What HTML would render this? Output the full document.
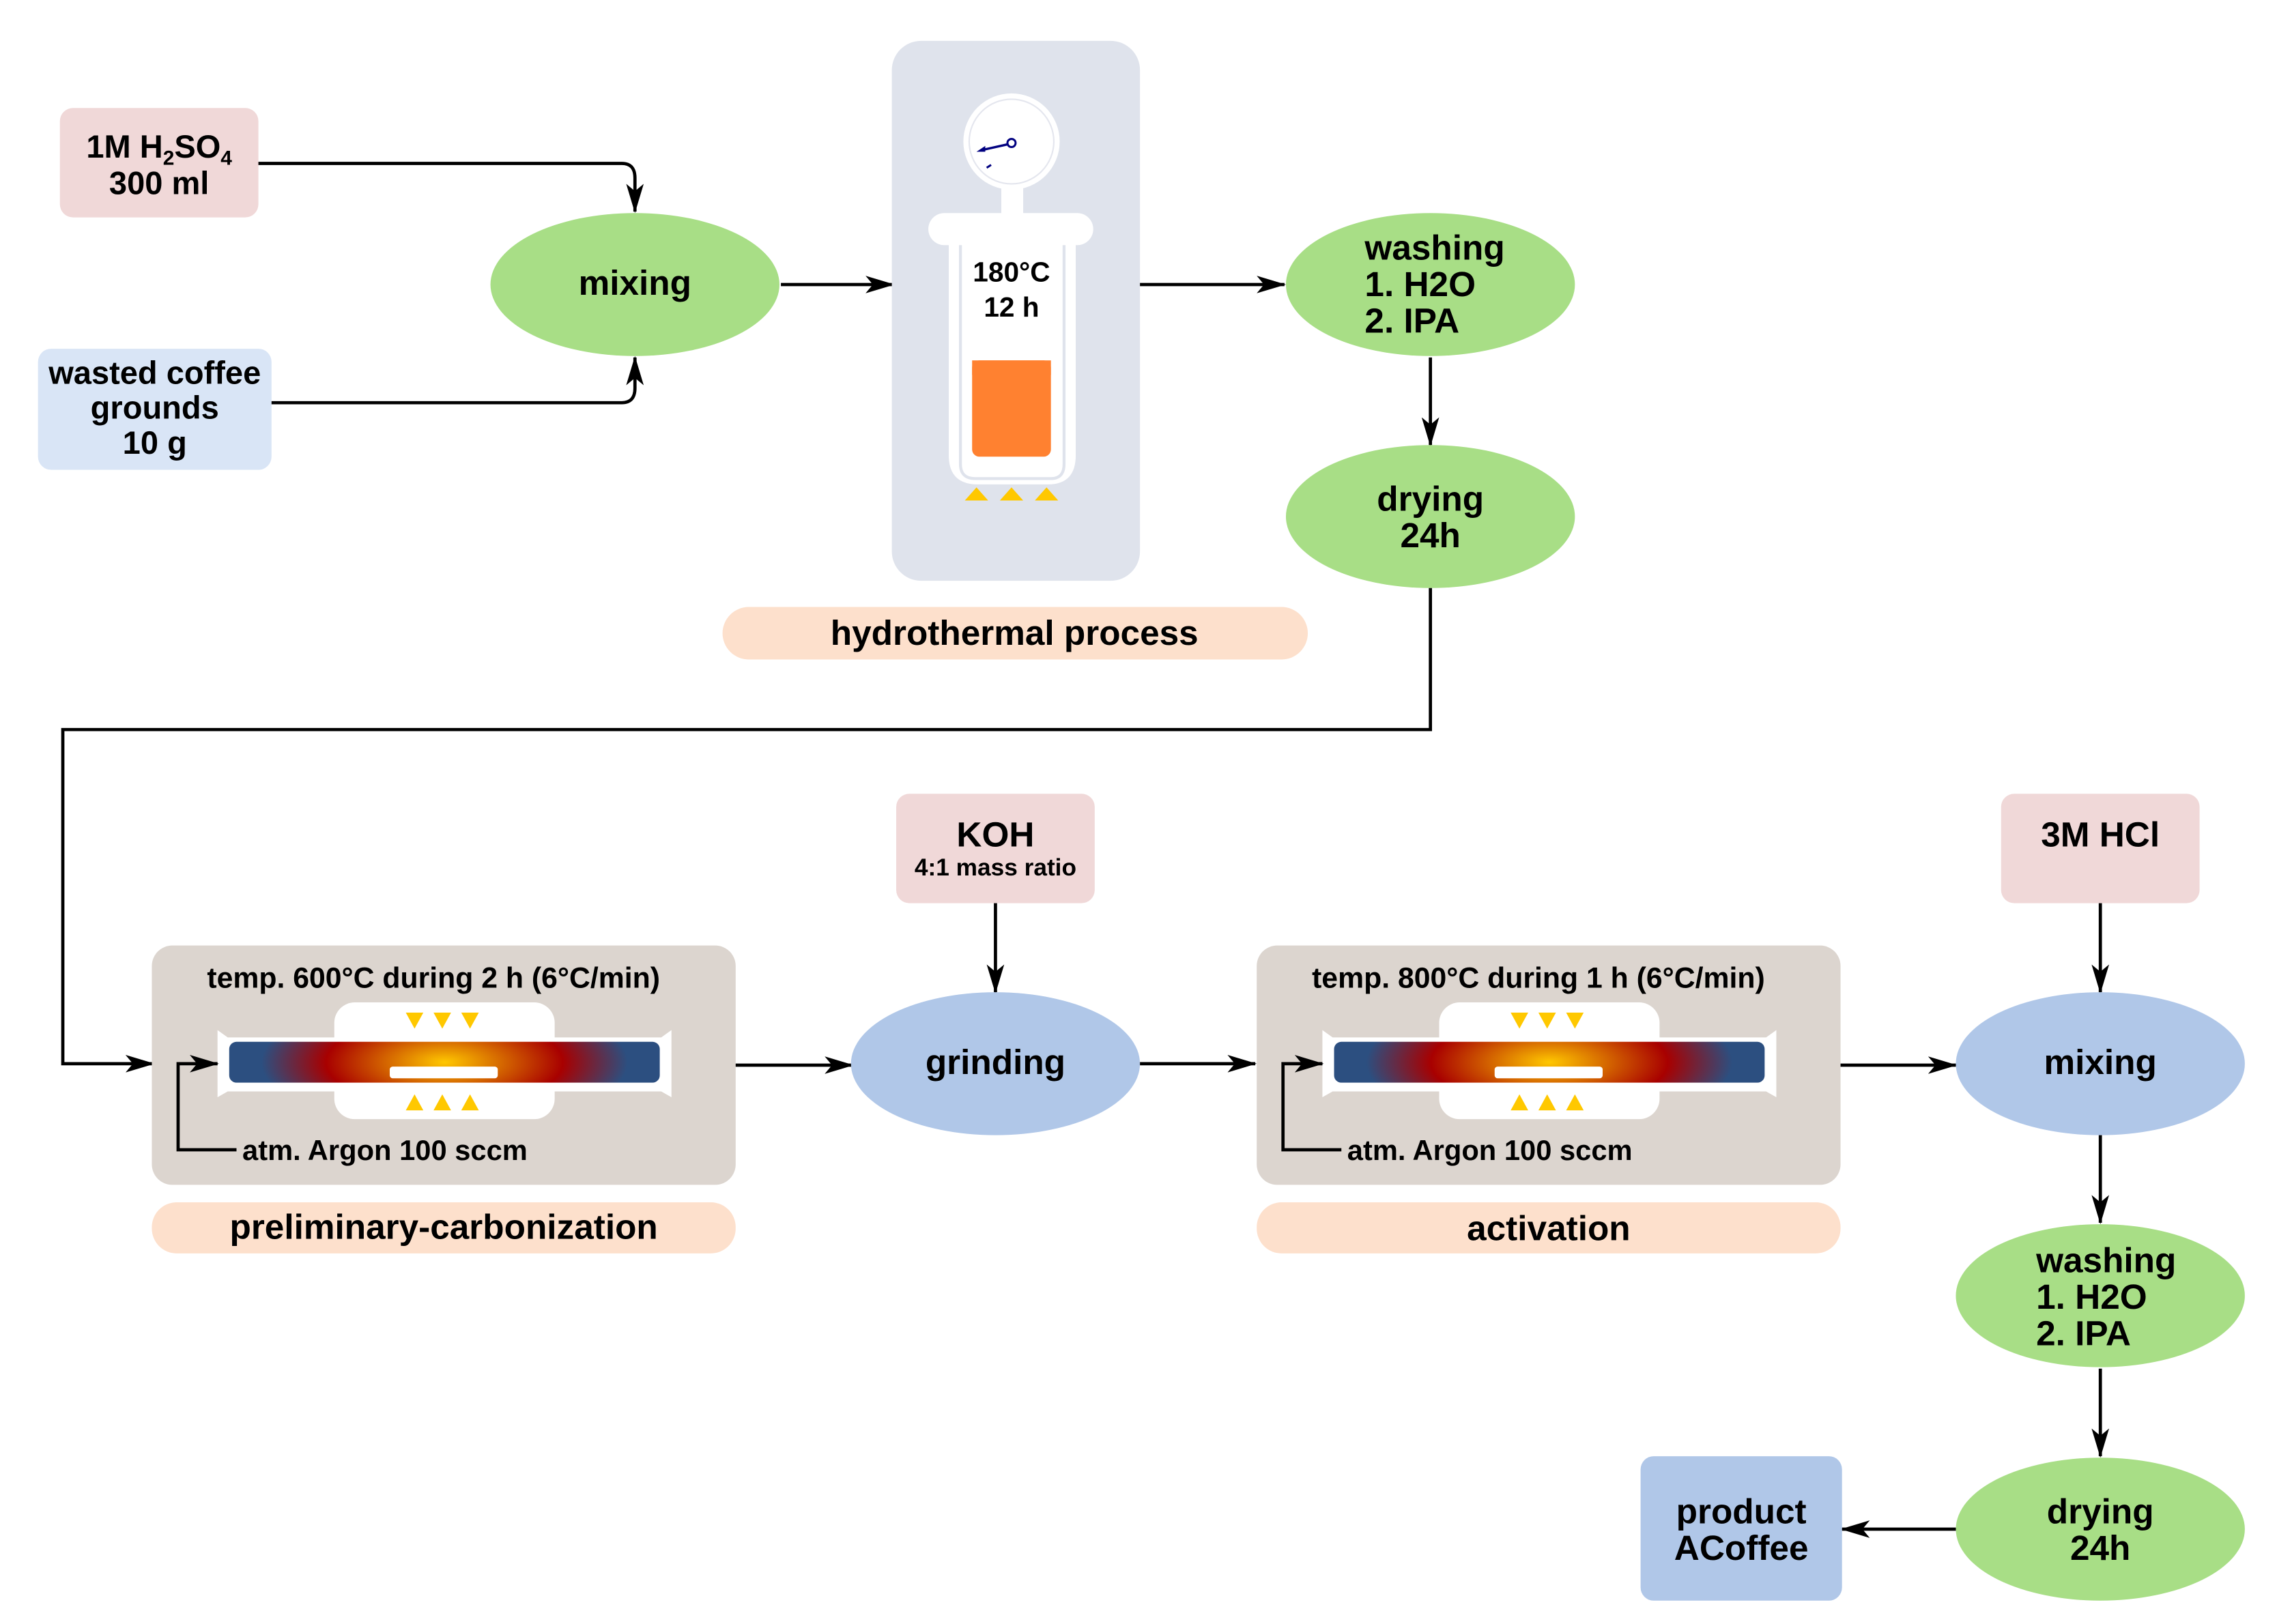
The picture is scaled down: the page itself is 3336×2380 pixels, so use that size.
<!DOCTYPE html>
<html><head><meta charset="utf-8"><style>
html,body{margin:0;padding:0;background:#fff;}
svg{display:block}
text{font-family:"Liberation Sans Narrow","Liberation Sans",sans-serif;font-weight:bold;fill:#000;text-anchor:middle;}
</style></head><body>
<svg width="3336" height="2380" viewBox="0 0 1560 1113" xmlns="http://www.w3.org/2000/svg">
<defs>
<marker id="a" viewBox="0 0 20 12" refX="19" refY="6" markerWidth="20" markerHeight="12" markerUnits="userSpaceOnUse" orient="auto">
<path d="M0,0 L20,6 L0,12 L5,6 Z" fill="#000"/></marker>
<radialGradient id="g" cx="0.5" cy="0.5" r="0.5" gradientTransform="translate(0.5 0.5) scale(1 4) translate(-0.5 -0.5)">
<stop offset="0" stop-color="#ffc800"/><stop offset="0.55" stop-color="#a80000"/><stop offset="0.85" stop-color="#2c4f80"/><stop offset="1" stop-color="#2c4f80"/></radialGradient>
<g id="fur">
<rect x="0" y="0" width="400" height="164" rx="14" fill="#dcd5cf"/>
<rect x="125" y="39" width="151" height="40" rx="14" fill="#fff"/>
<rect x="125" y="74" width="151" height="45" rx="14" fill="#fff"/>
<path d="M45,58 L52,63 L349,63 L356,58 L356,104 L349,100 L52,100 L45,104 Z" fill="#fff"/>
<rect x="53" y="66" width="295" height="28" rx="5" fill="url(#g)"/>
<rect x="163" y="83" width="74" height="8" rx="2" fill="#fff"/>
<path d="M174,46 h12 l-6,11z M193,46 h12 l-6,11z M212,46 h12 l-6,11z" fill="#ffc800"/>
<path d="M174,113 h12 l-6,-11z M193,113 h12 l-6,-11z M212,113 h12 l-6,-11z" fill="#ffc800"/>
<path d="M58,140 H18 V81 H45" fill="none" stroke="#000" stroke-width="2.2" marker-end="url(#a)"/>
<text x="62" y="147" font-size="19.5" style="text-anchor:start">atm. Argon 100 sccm</text>
</g>
</defs>

<!-- top row -->
<rect x="41" y="74" width="136" height="75" rx="9" fill="#f0d8d8"/>
<text x="109" y="108" font-size="22">1M H<tspan font-size="14" dy="5">2</tspan><tspan dy="-5">SO</tspan><tspan font-size="14" dy="5">4</tspan></text>
<text x="109" y="133" font-size="22">300 ml</text>
<rect x="26" y="239" width="160" height="83" rx="9" fill="#d9e5f6"/>
<text x="106" y="263" font-size="22">wasted coffee</text>
<text x="106" y="287" font-size="22">grounds</text>
<text x="106" y="311" font-size="22">10 g</text>
<path d="M177,112 H426 Q435,112 435,122 V145" fill="none" stroke="#000" stroke-width="2.2" marker-end="url(#a)"/>
<path d="M186,276 H426 Q435,276 435,266 V245" fill="none" stroke="#000" stroke-width="2.2" marker-end="url(#a)"/>
<ellipse cx="435" cy="195" rx="99" ry="49" fill="#a8de86"/>
<text x="435" y="202" font-size="24">mixing</text>
<line x1="535" y1="195" x2="612" y2="195" stroke="#000" stroke-width="2.2" marker-end="url(#a)"/>

<rect x="611" y="28" width="170" height="370" rx="20" fill="#dfe3ec"/>
<circle cx="693" cy="97" r="33" fill="#fff"/>
<circle cx="693" cy="97" r="29" fill="none" stroke="#e4e6ee" stroke-width="1"/>
<path d="M672,103 L690,99" stroke="#000080" stroke-width="1.6"/>
<path d="M669,104 l6,-4 l0,4z" fill="#000080"/>
<circle cx="693" cy="98" r="2.8" fill="none" stroke="#000080" stroke-width="1.4"/>
<path d="M676,115 l3,-2" stroke="#000080" stroke-width="1.4"/>
<rect x="686" y="128" width="15" height="22" fill="#fff"/>
<rect x="636" y="146" width="113" height="22" rx="11" fill="#fff"/>
<path d="M650,165 V312 Q650,332 670,332 H718 Q737,332 737,312 V165 Z" fill="#fff"/>
<path d="M658,168 V318 Q658,328 668,328 H720 Q729,328 729,318 V168" fill="none" stroke="#dfe3ec" stroke-width="2"/>
<rect x="666" y="247" width="54" height="66" rx="5" fill="#ff8130"/>
<rect x="666" y="247" width="54" height="10" fill="#ff8130"/>
<text x="693" y="193" font-size="19">180°C</text>
<text x="693" y="217" font-size="19">12 h</text>
<path d="M661,343 h16 l-8,-9z M685,343 h16 l-8,-9z M709,343 h16 l-8,-9z" fill="#ffc800"/>
<rect x="495" y="416" width="401" height="36" rx="18" fill="#fde0cc"/>
<text x="695" y="442" font-size="24">hydrothermal process</text>
<line x1="781" y1="195" x2="880" y2="195" stroke="#000" stroke-width="2.2" marker-end="url(#a)"/>

<ellipse cx="980" cy="195" rx="99" ry="49" fill="#a8de86"/>
<text x="935" y="178" font-size="24" style="text-anchor:start">washing</text>
<text x="935" y="203" font-size="24" style="text-anchor:start">1. H2O</text>
<text x="935" y="228" font-size="24" style="text-anchor:start">2. IPA</text>
<line x1="980" y1="245" x2="980" y2="305" stroke="#000" stroke-width="2.2" marker-end="url(#a)"/>
<ellipse cx="980" cy="354" rx="99" ry="49" fill="#a8de86"/>
<text x="980" y="350" font-size="24">drying</text>
<text x="980" y="375" font-size="24">24h</text>
<path d="M980,403 V500 H43 V729 H105" fill="none" stroke="#000" stroke-width="2.2" marker-end="url(#a)"/>

<!-- bottom row -->
<use href="#fur" x="104" y="648"/>
<text x="297" y="677" font-size="20">temp. 600°C  during 2 h (6°C/min)</text>
<rect x="104" y="824" width="400" height="35" rx="17" fill="#fde0cc"/>
<text x="304" y="849" font-size="24">preliminary-carbonization</text>
<line x1="504" y1="730" x2="584" y2="730" stroke="#000" stroke-width="2.2" marker-end="url(#a)"/>

<rect x="614" y="544" width="136" height="75" rx="9" fill="#f0d8d8"/>
<text x="682" y="580" font-size="24">KOH</text>
<text x="682" y="600" font-size="16.5">4:1 mass ratio</text>
<line x1="682" y1="619" x2="682" y2="680" stroke="#000" stroke-width="2.2" marker-end="url(#a)"/>
<ellipse cx="682" cy="729" rx="99" ry="49" fill="#b0c7e8"/>
<text x="682" y="736" font-size="24">grinding</text>
<line x1="781" y1="729" x2="860" y2="729" stroke="#000" stroke-width="2.2" marker-end="url(#a)"/>

<use href="#fur" x="861" y="648"/>
<text x="1054" y="677" font-size="20">temp. 800°C  during 1 h (6°C/min)</text>
<rect x="861" y="824" width="400" height="35" rx="17" fill="#fde0cc"/>
<text x="1061" y="850" font-size="24">activation</text>
<line x1="1261" y1="730" x2="1340" y2="730" stroke="#000" stroke-width="2.2" marker-end="url(#a)"/>

<rect x="1371" y="544" width="136" height="75" rx="9" fill="#f0d8d8"/>
<text x="1439" y="580" font-size="24">3M HCl</text>
<line x1="1439" y1="619" x2="1439" y2="680" stroke="#000" stroke-width="2.2" marker-end="url(#a)"/>
<ellipse cx="1439" cy="729" rx="99" ry="49" fill="#b0c7e8"/>
<text x="1439" y="736" font-size="24">mixing</text>
<line x1="1439" y1="778" x2="1439" y2="838" stroke="#000" stroke-width="2.2" marker-end="url(#a)"/>
<ellipse cx="1439" cy="888" rx="99" ry="49" fill="#a8de86"/>
<text x="1395" y="872" font-size="24" style="text-anchor:start">washing</text>
<text x="1395" y="897" font-size="24" style="text-anchor:start">1. H2O</text>
<text x="1395" y="922" font-size="24" style="text-anchor:start">2. IPA</text>
<line x1="1439" y1="938" x2="1439" y2="998" stroke="#000" stroke-width="2.2" marker-end="url(#a)"/>
<ellipse cx="1439" cy="1048" rx="99" ry="49" fill="#a8de86"/>
<text x="1439" y="1044" font-size="24">drying</text>
<text x="1439" y="1069" font-size="24">24h</text>
<line x1="1340" y1="1048" x2="1262" y2="1048" stroke="#000" stroke-width="2.2" marker-end="url(#a)"/>
<rect x="1124" y="998" width="138" height="99" rx="9" fill="#b0c7e8"/>
<text x="1193" y="1044" font-size="24">product</text>
<text x="1193" y="1069" font-size="24">ACoffee</text>
</svg>
</body></html>
